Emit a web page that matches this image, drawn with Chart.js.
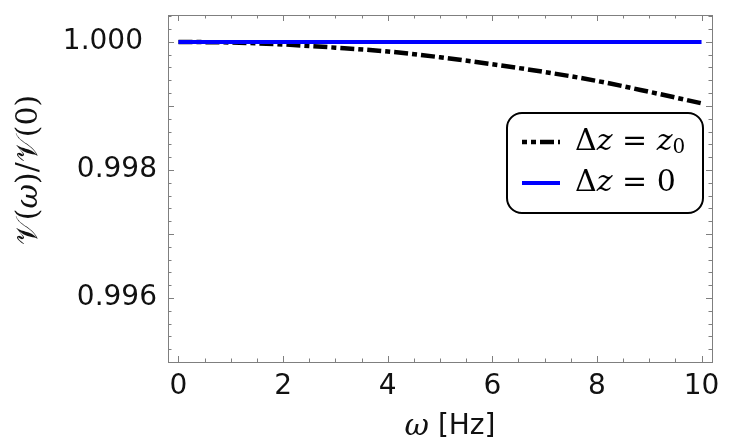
<!DOCTYPE html>
<html>
<head>
<meta charset="utf-8">
<script src="https://cdn.jsdelivr.net/npm/chart.js@4.4.1/dist/chart.umd.min.js"></script>
<style>
  html, body { margin: 0; padding: 0; background: #fff; }
  #wrap { width: 738px; height: 444px; }
</style>
</head>
<body>
<div id="wrap"><canvas id="chart" width="738" height="444"></canvas></div>
<script>
// frequency grid (Hz)
const omega = [0, 1, 2, 3, 4, 5, 6, 7, 8, 9, 10];
// normalised visibility, detector offset dz = z0
const visShifted = [1.00000, 0.99999, 0.99996, 0.99991, 0.99985, 0.99976, 0.99965, 0.99953, 0.99939, 0.99922, 0.99904];
// normalised visibility, dz = 0
const visAligned = [1, 1, 1, 1, 1, 1, 1, 1, 1, 1, 1];

const xTickLabels = [0, 2, 4, 6, 8, 10];
const yTickLabels = [0.996, 0.998, 1.000];

const frameColour = '#7f7f7f';
const serif = '"DejaVu Serif", "Liberation Serif", serif';

function pairs(xs, ys) {
    return xs.map((x, i) => ({ x: x, y: ys[i] }));
}

// draw a row of text pieces with different fonts, starting at x
function drawRuns(ctx, runs, x, y) {
    runs.forEach(r => {
        ctx.font = r.f;
        let dy = r.dy || 0;
        ctx.fillText(r.t, x, y + dy);
        x += ctx.measureText(r.t).width;
    });
}
function runsWidth(ctx, runs) {
    let w = 0;
    runs.forEach(r => { ctx.font = r.f; w += ctx.measureText(r.t).width; });
    return w;
}

const frameTicks = {
    id: 'frameTicks',
    beforeDatasetsDraw(chart) {
        const ctx = chart.ctx, a = chart.chartArea;
        const xs = chart.scales.x, ys = chart.scales.y;
        ctx.save();
        ctx.strokeStyle = frameColour;
        ctx.lineWidth = 1;
        ctx.strokeRect(a.left + 0.5, a.top + 0.5, a.right - a.left, a.bottom - a.top);
        ctx.beginPath();
        // x ticks, every 0.5
        for (let i = 0; i <= 20; i++) {
            let v = i * 0.5;
            let px = Math.round(xs.getPixelForValue(v)) + 0.5;
            let len = (i % 4 === 0) ? 6 : 3.5;
            ctx.moveTo(px, a.bottom); ctx.lineTo(px, a.bottom - len);
            ctx.moveTo(px, a.top); ctx.lineTo(px, a.top + len);
        }
        // y ticks, every 0.0002
        for (let i = 0; i <= 27; i++) {
            let v = 0.995 + i * 0.0002;
            let py = Math.round(ys.getPixelForValue(v)) + 0.5;
            let len = (i % 5 === 0) ? 6 : 3.5;
            ctx.moveTo(a.left, py); ctx.lineTo(a.left + len, py);
            ctx.moveTo(a.right, py); ctx.lineTo(a.right - len, py);
        }
        ctx.stroke();
        ctx.restore();
    },
    afterDraw(chart) {
        const ctx = chart.ctx;
        ctx.save();
        ctx.fillStyle = '#111';
        ctx.textBaseline = 'middle';

        // y title
        const yRuns = [
            { t: '\u{1D4B1}', f: '30px ' + serif },
            { t: '(', f: '30px ' + serif },
            { t: 'ω', f: 'italic 30px ' + serif },
            { t: ')/', f: '30px ' + serif },
            { t: '\u{1D4B1}', f: '30px ' + serif },
            { t: '(0)', f: '30px ' + serif }
        ];
        ctx.translate(29, 170);
        ctx.rotate(-Math.PI / 2);
        drawRuns(ctx, yRuns, -runsWidth(ctx, yRuns) / 2, 0);
        ctx.setTransform(1, 0, 0, 1, 0, 0);

        // x title
        const xRuns = [
            { t: 'ω', f: 'italic 30px ' + serif },
            { t: ' [Hz]', f: '28px "DejaVu Sans"' }
        ];
        drawRuns(ctx, xRuns, 450 - runsWidth(ctx, xRuns) / 2, 427);

        // legend box
        const bx = 507, by = 113, bw = 196, bh = 100;
        ctx.strokeStyle = '#000';
        ctx.lineWidth = 2;
        ctx.beginPath();
        ctx.roundRect(bx, by, bw, bh, 15);
        ctx.fillStyle = '#fff';
        ctx.fill();
        ctx.stroke();

        const rows = [
            { ds: chart.data.datasets[0], y: 142, runs: [
                { t: 'Δ', f: '30px ' + serif },
                { t: 'z', f: 'italic 30px ' + serif },
                { t: ' = ', f: '30px ' + serif },
                { t: 'z', f: 'italic 30px ' + serif },
                { t: '0', f: '20px ' + serif, dy: 6 }
            ] },
            { ds: chart.data.datasets[1], y: 183, runs: [
                { t: 'Δ', f: '30px ' + serif },
                { t: 'z', f: 'italic 30px ' + serif },
                { t: ' = 0', f: '30px ' + serif }
            ] }
        ];
        rows.forEach(r => {
            ctx.strokeStyle = r.ds.borderColor;
            ctx.lineWidth = r.ds.borderWidth;
            ctx.setLineDash(r.ds.borderDash || []);
            ctx.lineDashOffset = 9;
            ctx.beginPath();
            ctx.moveTo(522, r.y); ctx.lineTo(560, r.y);
            ctx.stroke();
            ctx.setLineDash([]);
            ctx.fillStyle = '#000';
            drawRuns(ctx, r.runs, 575, r.y);
        });
        ctx.restore();
    }
};

new Chart(document.getElementById('chart'), {
    type: 'line',
    data: {
        datasets: [
            {
                label: 'Δz = z0',
                data: pairs(omega, visShifted),
                borderColor: '#000000',
                borderWidth: 4.5,
                borderDash: [14, 4, 5, 4],
                pointRadius: 0,
                tension: 0.4,
                cubicInterpolationMode: 'monotone',
                order: 1
            },
            {
                label: 'Δz = 0',
                data: pairs(omega, visAligned),
                borderColor: '#0000ff',
                borderWidth: 4,
                pointRadius: 0,
                tension: 0,
                order: 0
            }
        ]
    },
    options: {
        responsive: false,
        animation: false,
        layout: { autoPadding: false, padding: { top: 15, right: 26, left: 0, bottom: 0 } },
        plugins: { legend: { display: false }, tooltip: { enabled: false } },
        scales: {
            x: {
                type: 'linear',
                min: -0.2,
                max: 10.2,
                grid: { display: false, drawTicks: false },
                border: { display: false },
                afterBuildTicks: s => { s.ticks = xTickLabels.map(v => ({ value: v })); },
                afterFit: s => {
                    s.height = 82;
                    s.paddingLeft = 0; s.paddingRight = 0;
                },
                ticks: {
                    color: '#111',
                    padding: 8,
                    maxRotation: 0,
                    font: { family: 'DejaVu Sans', size: 28 },
                    callback: v => String(v)
                }
            },
            y: {
                type: 'linear',
                min: 0.995,
                max: 1.00042,
                grid: { display: false, drawTicks: false },
                border: { display: false },
                afterBuildTicks: s => { s.ticks = yTickLabels.map(v => ({ value: v })); },
                afterFit: s => {
                    s.width = 168;
                    s.paddingTop = 0; s.paddingBottom = 0;
                },
                ticks: {
                    color: '#111',
                    padding: 11,
                    font: { family: 'DejaVu Sans', size: 28 },
                    // the top label sits a little further left in the original
                    callback: v => v === 1 ? '1.000\u2002' : v.toFixed(3)
                }
            }
        }
    },
    plugins: [frameTicks]
});
</script>
</body>
</html>
